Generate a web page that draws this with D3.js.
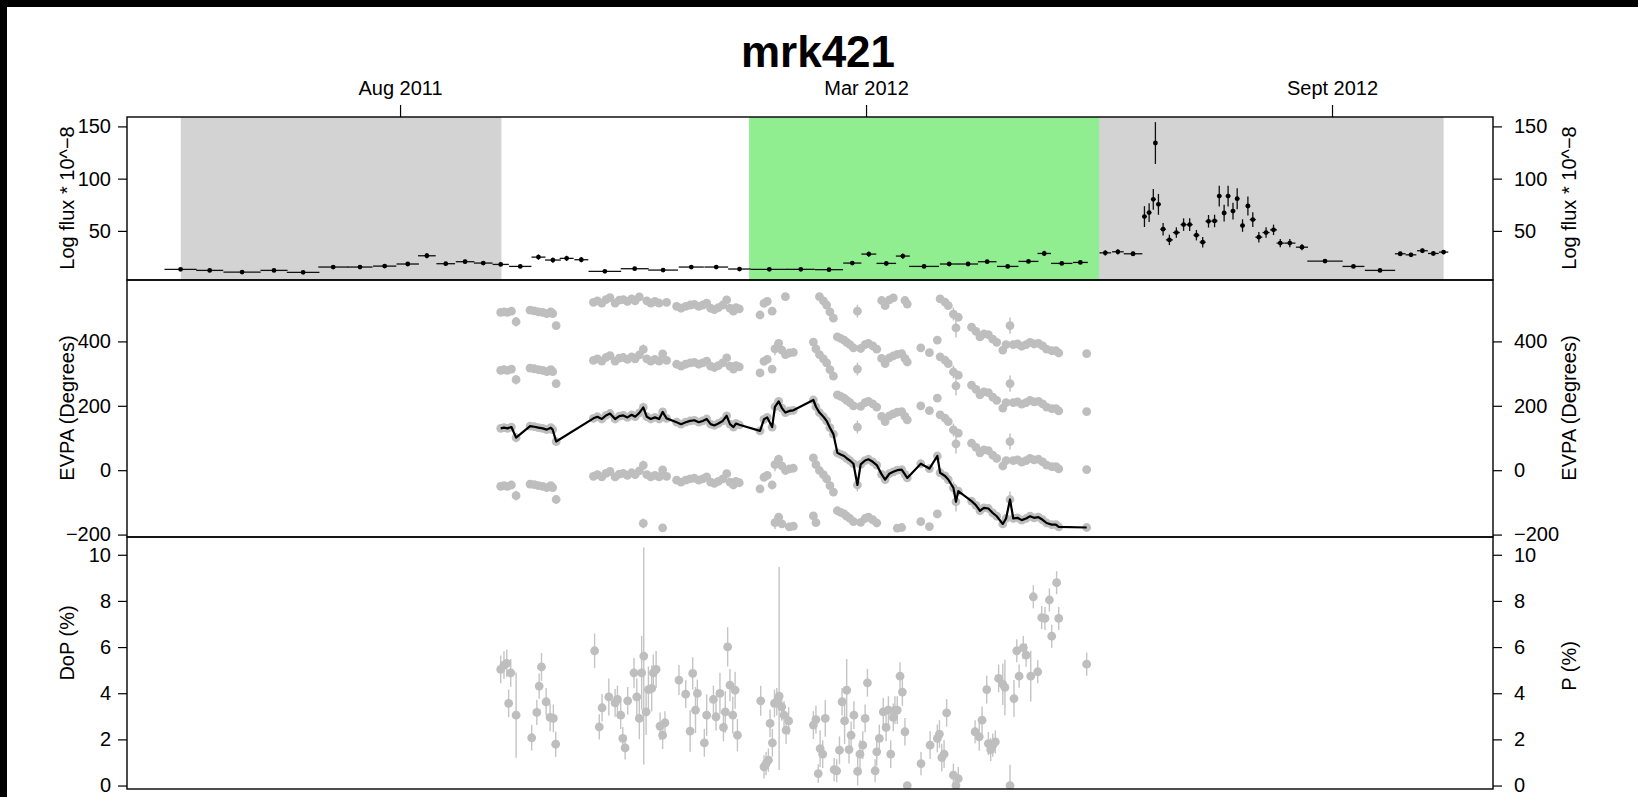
<!DOCTYPE html>
<html>
<head>
<meta charset="utf-8">
<script src="https://cdn.jsdelivr.net/npm/d3@7"></script>
<style>
  body { margin: 0; background: #fff; }
  svg { display: block; font-family: "Liberation Sans", Arial, Helvetica, sans-serif; }
</style>
</head>
<body>
<div id="chart"></div>
<script>
const sourceName = "mrk421";

// top axis (MJD) and its labels
const dateTicks = [55775, 55975, 56175];
const dateTickLabels = ["Aug 2011", "Mar 2012", "Sept 2012"];
const fluxTicks = [50, 100, 150];
const evpaTicks = [-200, 0, 200, 400];
const dopTicks = [0, 2, 4, 6, 8, 10];

// shaded observing periods [start, end] in MJD
const grayPeriods = [[55680.9, 55818.5], [56075, 56222.9]];
const greenPeriods = [[55924.8, 56075]];

// [mjd, half bin width (days), flux, error]
const fluxData = [
  [55680.8, 6.9, 13.2, 0.8], [55693.3, 5.8, 12.2, 0.8], [55707.2, 8.0, 10.6, 0.8],
  [55720.9, 5.8, 12.2, 0.8], [55733.4, 7.0, 10.3, 0.8], [55746.3, 6.4, 15.4, 1.0],
  [55757.8, 5.4, 15.4, 1.0], [55768.4, 5.0, 16.3, 1.0], [55778.3, 4.8, 18.3, 1.2],
  [55786.5, 3.8, 26.2, 2.5], [55794.6, 4.0, 18.6, 1.5], [55802.9, 4.0, 20.5, 1.8],
  [55810.7, 4.0, 19.2, 1.5], [55818.2, 3.5, 17.9, 1.2], [55826.6, 4.8, 16.0, 1.0],
  [55834.4, 3.0, 24.9, 2.5], [55840.6, 3.4, 22.1, 2.5], [55846.5, 3.0, 23.7, 2.5],
  [55852.8, 3.0, 22.4, 2.5], [55862.9, 7.0, 11.3, 0.8], [55875.7, 6.0, 13.8, 0.8],
  [55887.9, 6.4, 12.5, 0.8], [55900.0, 5.4, 15.4, 0.8], [55910.7, 5.1, 15.4, 0.8],
  [55920.7, 4.9, 13.5, 0.8], [55933.5, 7.9, 13.2, 0.8], [55947.0, 6.0, 13.2, 0.8],
  [55959.1, 6.0, 12.9, 0.8], [55969.1, 3.9, 19.2, 1.5], [55976.2, 3.2, 27.8, 2.5],
  [55983.7, 4.2, 18.9, 2.0], [55990.8, 3.0, 25.9, 2.5], [55999.9, 6.4, 16.0, 1.0],
  [56010.7, 4.0, 18.3, 1.3], [56018.8, 4.3, 18.3, 1.3], [56027.0, 4.0, 20.5, 1.5],
  [56035.8, 4.6, 16.0, 1.0], [56044.7, 4.3, 20.8, 1.5], [56051.5, 2.9, 28.4, 2.5],
  [56059.0, 4.6, 18.9, 1.5], [56067.0, 3.2, 19.8, 1.5], [56077.7, 2.5, 29.0, 2.5],
  [56083.1, 2.5, 30.0, 2.5], [56089.6, 4.0, 28.1, 2.0], [56094.5, 1.0, 63.7, 10],
  [56096.5, 1.0, 67.5, 9], [56098.3, 1.0, 80.2, 10], [56099.2, 0.5, 134.1, 20],
  [56100.5, 1.0, 75.4, 10], [56102.5, 1.2, 51.6, 6], [56105.2, 1.5, 41.4, 5],
  [56108.2, 1.5, 48.4, 5], [56111.3, 1.3, 56.0, 6], [56113.9, 1.3, 56.0, 6],
  [56116.8, 1.3, 45.9, 5], [56119.5, 1.3, 39.2, 5], [56122.0, 1.3, 59.2, 6],
  [56124.6, 1.3, 59.5, 6], [56126.6, 1.0, 83.3, 10], [56128.7, 1.0, 67.1, 8],
  [56130.4, 1.0, 83.3, 10], [56132.5, 1.0, 69.0, 8], [56134.3, 1.0, 80.8, 10],
  [56136.6, 1.0, 55.1, 6], [56138.9, 1.0, 73.8, 9], [56141.0, 1.3, 60.8, 7],
  [56143.6, 1.5, 44.0, 5], [56146.7, 1.5, 48.4, 5], [56149.9, 1.5, 51.0, 5],
  [56152.8, 1.6, 38.3, 4], [56156.9, 2.4, 38.3, 4], [56162.1, 2.6, 34.4, 3],
  [56172.0, 7.6, 21.1, 1.5], [56184.2, 4.7, 16.0, 1.0], [56195.6, 6.5, 12.2, 0.8],
  [56204.3, 2.3, 28.1, 2], [56208.9, 2.3, 27.1, 2], [56213.8, 2.3, 31.0, 2],
  [56218.5, 2.3, 28.4, 2], [56222.9, 2.0, 29.7, 2]
];

// [mjd, EVPA (deg, unwrapped), error]
const evpaData = [
  [55818.2, 130, 4], [55819.6, 132, 4], [55821.1, 130, 4], [55822.8, 134, 4],
  [55824.8, 101, 15], [55830.8, 137, 4], [55832.6, 135, 4], [55834.4, 132, 4],
  [55836.2, 130, 4], [55838.0, 126, 4], [55839.7, 132, 4], [55840.5, 126, 4],
  [55842.0, 89, 6], [55858.0, 161, 4], [55859.7, 166, 4], [55861.6, 159, 4],
  [55863.4, 170, 4], [55865.1, 176, 4], [55867.3, 159, 4], [55869.1, 168, 4],
  [55870.8, 170, 4], [55872.6, 164, 4], [55874.4, 172, 4], [55875.9, 166, 4],
  [55877.7, 178, 4], [55879.4, 195, 15], [55880.9, 166, 4], [55882.6, 159, 4],
  [55884.4, 164, 4], [55886.2, 159, 4], [55887.7, 181, 4], [55889.4, 161, 4],
  [55893.7, 149, 4], [55895.6, 143, 4], [55897.6, 149, 4], [55899.5, 153, 4],
  [55901.3, 155, 4], [55903.2, 149, 4], [55904.9, 153, 4], [55906.6, 159, 4],
  [55908.3, 143, 4], [55909.9, 139, 4], [55911.6, 145, 4], [55913.5, 153, 4],
  [55915.2, 169, 6], [55916.6, 143, 4], [55918.1, 134, 4], [55919.2, 145, 4],
  [55920.6, 141, 4], [55929.5, 122, 4], [55931.2, 158, 6], [55932.6, 164, 4],
  [55934.7, 134, 4], [55935.9, 197, 20], [55937.5, 214, 4], [55938.9, 193, 4],
  [55940.4, 179, 4], [55942.1, 184, 4], [55943.8, 186, 4], [55952.4, 218, 4],
  [55953.5, 197, 4], [55955.0, 179, 4], [55956.7, 166, 4], [55958.1, 153, 4],
  [55959.5, 132, 4], [55961.0, 112, 8], [55962.7, 54, 8], [55964.1, 49, 4],
  [55965.6, 44, 4], [55966.7, 37, 4], [55968.1, 30, 4], [55969.6, 20, 4],
  [55971.3, -46, 20], [55972.7, 18, 4], [55974.6, 30, 4], [55976.0, 34, 4],
  [55977.9, 26, 4], [55979.6, 16, 4], [55981.7, -13, 4], [55983.2, -29, 4],
  [55985.0, -11, 4], [55986.7, -5, 4], [55988.4, 0, 4], [55990.3, 2, 4],
  [55991.7, -13, 4], [55992.7, -24, 4], [55998.5, 20, 4], [56002.2, 5, 4],
  [56005.6, 44, 4], [56006.8, -8, 4], [56008.9, -18, 4], [56010.3, -29, 4],
  [56012.5, -55, 20], [56013.6, -98, 30], [56014.6, -65, 8], [56020.3, -96, 4],
  [56022.2, -109, 4], [56023.9, -126, 4], [56025.6, -117, 4], [56027.5, -119, 4],
  [56029.4, -133, 4], [56031.1, -143, 4], [56033.7, -167, 4], [56035.1, -150, 4],
  [56036.8, -91, 25], [56038.2, -150, 4], [56040.0, -148, 4], [56041.8, -155, 4],
  [56043.7, -150, 4], [56045.4, -143, 4], [56047.1, -148, 4], [56049.0, -146, 4],
  [56050.8, -154, 4], [56052.5, -164, 4], [56054.7, -169, 4], [56056.5, -169, 4],
  [56057.7, -176, 4], [56069.7, -178, 4]
];
// the 180 degree ambiguity: each angle is also shown at these offsets
const evpaBranches = [-180, 0, 180, 360];

// [mjd, P (%), error] or [mjd, P (%), error down, error up]
const dopData = [
  [55818.2, 5.03, 0.6], [55819.6, 5.22, 0.6], [55820.8, 5.29, 0.6], [55822.5, 4.88, 0.6],
  [55821.6, 3.56, 0.6], [55824.8, 3.05, 1.85], [55831.5, 2.07, 0.55], [55833.7, 3.17, 0.55],
  [55834.7, 4.31, 0.55], [55835.7, 5.14, 0.6], [55837.7, 3.63, 0.6], [55839.4, 2.95, 0.6],
  [55840.8, 2.91, 0.6], [55841.8, 1.79, 0.55], [55858.5, 5.84, 0.75], [55860.5, 2.54, 0.55],
  [55861.7, 3.37, 0.6], [55864.6, 3.84, 0.8], [55867.3, 3.58, 0.6], [55868.3, 3.73, 0.6],
  [55869.7, 3.05, 0.6], [55870.6, 2.04, 0.5], [55871.6, 1.63, 0.5], [55872.7, 3.67, 0.6],
  [55875.4, 4.88, 0.65], [55876.6, 3.84, 0.8], [55877.7, 2.91, 0.9], [55878.7, 4.88, 1.6],
  [55879.6, 5.61, 4.7], [55880.6, 3.19, 1.0], [55881.6, 4.16, 1.0], [55883.0, 4.21, 1.0],
  [55883.7, 4.88, 0.8], [55884.9, 5.03, 0.8], [55886.6, 2.57, 0.6], [55887.7, 2.18, 0.6],
  [55888.7, 2.72, 0.5], [55894.7, 4.57, 0.65], [55897.6, 3.96, 0.6], [55899.5, 2.36, 0.9],
  [55900.6, 4.86, 0.7], [55901.8, 3.27, 1.0], [55902.6, 3.99, 0.6], [55905.6, 1.85, 0.6],
  [55906.6, 3.05, 0.9], [55909.5, 3.73, 0.6], [55910.6, 2.98, 0.6], [55912.3, 3.99, 0.9],
  [55913.8, 2.52, 0.6], [55914.6, 3.19, 0.9], [55915.6, 6.01, 0.85], [55916.6, 4.35, 0.7],
  [55917.8, 3.05, 0.8], [55918.8, 4.13, 0.8], [55919.8, 2.18, 0.7], [55929.8, 3.67, 0.65],
  [55931.2, 0.81, 0.5], [55932.1, 0.95, 0.5], [55933.1, 1.10, 0.5], [55933.8, 2.69, 0.6],
  [55934.8, 1.85, 0.6], [55935.7, 3.56, 0.6], [55936.7, 3.63, 0.6], [55937.7, 3.87, 3.2, 5.6],
  [55938.8, 3.41, 0.6], [55939.8, 3.05, 0.6], [55940.7, 2.40, 0.6], [55941.8, 2.80, 0.6],
  [55952.4, 2.62, 0.6], [55953.5, 2.86, 0.6], [55954.5, 0.52, 0.4], [55955.3, 1.60, 0.8],
  [55956.4, 1.36, 0.6], [55957.5, 2.91, 0.8], [55961.3, 0.69, 0.5], [55962.4, 0.64, 0.5],
  [55963.6, 1.53, 0.6], [55964.7, 3.63, 0.6], [55965.8, 2.80, 1.0], [55966.7, 4.13, 1.35],
  [55967.7, 1.56, 0.6], [55968.6, 2.18, 0.6], [55969.8, 3.05, 0.6], [55971.4, 0.61, 0.6],
  [55972.4, 1.36, 0.6], [55973.6, 1.75, 0.6], [55974.6, 2.91, 0.6], [55975.6, 4.45, 0.6],
  [55978.9, 0.64, 0.5], [55979.6, 1.46, 0.6], [55980.7, 2.04, 0.6], [55982.4, 3.19, 0.6],
  [55983.6, 2.52, 0.6], [55984.6, 3.27, 0.6], [55985.6, 1.36, 0.6], [55986.7, 2.95, 0.6],
  [55987.4, 3.27, 0.6], [55988.4, 3.27, 0.6], [55989.6, 4.74, 0.6], [55990.6, 4.05, 0.6],
  [55991.7, 2.33, 0.6], [55992.7, 0.00, 0], [55998.6, 0.95, 0.5], [56002.5, 1.75, 0.6],
  [56005.6, 2.04, 0.6], [56006.5, 2.23, 0.6], [56007.5, 1.21, 0.6], [56008.5, 1.36, 0.6],
  [56009.6, 3.15, 0.6], [56012.5, 0.45, 0.5], [56013.6, 0.00, 0], [56014.6, 0.30, 0.5],
  [56021.8, 2.33, 0.5], [56023.6, 2.11, 0.6], [56024.8, 2.83, 0.6], [56026.8, 4.16, 0.6],
  [56027.5, 1.82, 0.5], [56028.5, 1.56, 0.5], [56029.4, 1.75, 0.5], [56030.5, 1.89, 0.5],
  [56031.9, 4.64, 0.6], [56033.7, 4.39, 0.9], [56034.6, 4.25, 1.2], [56036.8, 0.00, 0, 0.9],
  [56038.5, 3.77, 0.8], [56039.7, 5.84, 0.5], [56040.7, 4.74, 0.5], [56042.5, 5.98, 0.5],
  [56043.7, 5.65, 0.5], [56045.7, 4.74, 1.1], [56046.8, 8.18, 0.5], [56048.7, 4.93, 0.5],
  [56050.4, 7.28, 0.5], [56051.8, 7.24, 0.5], [56053.7, 8.04, 0.5], [56054.7, 6.47, 0.5],
  [56056.8, 8.79, 0.5], [56057.7, 7.24, 0.5], [56069.7, 5.26, 0.5]
];

class PolarimetryChart {
  constructor(el) {
    this.width = 1638;
    this.height = 797;
    this.left = 127;
    this.right = 1493;
    this.panels = { flux: [117, 280], evpa: [280, 537], dop: [537, 789] };
    this.svg = d3
      .select(el)
      .append("svg")
      .attr("width", this.width)
      .attr("height", this.height);

    this.x = d3.scaleLinear().domain([55657.8, 56244.1]).range([this.left, this.right]);
    this.yFlux = d3.scaleLinear().domain([3.0, 159]).range([280, 117]);
    this.yEvpa = d3.scaleLinear().domain([-207.5, 590.7]).range([537, 280]);
    this.yDop = d3.scaleLinear().domain([-0.15, 10.77]).range([789, 537]);

    this.createChart();
  }

  createChart() {
    this.svg.append("rect").attr("width", this.width).attr("height", this.height).attr("fill", "#fff");
    // black strip along the top and left edge of the original picture
    this.svg.append("rect").attr("width", this.width).attr("height", 7).attr("fill", "#000");
    this.svg.append("rect").attr("width", 7).attr("height", this.height).attr("fill", "#000");

    const defs = this.svg.append("defs");
    Object.entries(this.panels).forEach(([name, [top, bottom]]) => {
      defs
        .append("clipPath")
        .attr("id", `clip-${name}`)
        .append("rect")
        .attr("x", this.left)
        .attr("y", top)
        .attr("width", this.right - this.left)
        .attr("height", bottom - top);
    });

    this.drawFlux();
    this.drawEvpa();
    this.drawDop();
    this.drawFrames();
    this.drawAxes();

    this.svg
      .append("text")
      .attr("x", 818)
      .attr("y", 67)
      .attr("text-anchor", "middle")
      .attr("font-size", 44)
      .attr("font-weight", "bold")
      .text(sourceName);
  }

  drawFlux() {
    const x = this.x;
    const y = this.yFlux;
    const [top, bottom] = this.panels.flux;
    const g = this.svg.append("g").attr("clip-path", "url(#clip-flux)");

    const bands = grayPeriods.map((p) => ({ p, c: "#d3d3d3" }))
      .concat(greenPeriods.map((p) => ({ p, c: "#90ee90" })));
    g.selectAll(".band")
      .data(bands)
      .join("rect")
      .attr("x", (d) => x(d.p[0]))
      .attr("y", top)
      .attr("width", (d) => x(d.p[1]) - x(d.p[0]))
      .attr("height", bottom - top)
      .attr("fill", (d) => d.c);

    // bin widths
    g.selectAll(".xbar")
      .data(fluxData)
      .join("line")
      .attr("x1", (d) => x(d[0] - d[1]))
      .attr("x2", (d) => x(d[0] + d[1]))
      .attr("y1", (d) => y(d[2]))
      .attr("y2", (d) => y(d[2]))
      .attr("stroke", "#111")
      .attr("stroke-width", 1.3);

    // flux errors
    g.selectAll(".ybar")
      .data(fluxData)
      .join("line")
      .attr("x1", (d) => x(d[0]))
      .attr("x2", (d) => x(d[0]))
      .attr("y1", (d) => y(d[2] - d[3]))
      .attr("y2", (d) => y(d[2] + d[3]))
      .attr("stroke", "#111")
      .attr("stroke-width", 1.3);

    g.selectAll(".pt")
      .data(fluxData)
      .join("circle")
      .attr("cx", (d) => x(d[0]))
      .attr("cy", (d) => y(d[2]))
      .attr("r", 2.4)
      .attr("fill", "#000");
  }

  drawEvpa() {
    const x = this.x;
    const y = this.yEvpa;
    const g = this.svg.append("g").attr("clip-path", "url(#clip-evpa)");

    const copies = evpaData.flatMap(([t, a, e]) => {
      const raw = ((a % 180) + 180) % 180;
      return evpaBranches.map((k) => ({ t, a: raw + k, e }));
    });

    g.selectAll(".err")
      .data(copies.filter((d) => d.e > 5))
      .join("line")
      .attr("x1", (d) => x(d.t))
      .attr("x2", (d) => x(d.t))
      .attr("y1", (d) => y(d.a - d.e))
      .attr("y2", (d) => y(d.a + d.e))
      .attr("stroke", "#bebebe")
      .attr("stroke-width", 1.4);

    g.selectAll(".dot")
      .data(copies)
      .join("circle")
      .attr("cx", (d) => x(d.t))
      .attr("cy", (d) => y(d.a))
      .attr("r", 4.4)
      .attr("fill", "#bebebe");

    const line = d3
      .line()
      .x((d) => x(d[0]))
      .y((d) => y(d[1]));

    g.append("path")
      .datum(evpaData)
      .attr("d", line)
      .attr("fill", "none")
      .attr("stroke", "#000")
      .attr("stroke-width", 2.2)
      .attr("stroke-linejoin", "round");
  }

  drawDop() {
    const x = this.x;
    const y = this.yDop;
    const g = this.svg.append("g").attr("clip-path", "url(#clip-dop)");

    g.selectAll(".err")
      .data(dopData.filter((d) => d[2] > 0 || d[3] > 0))
      .join("line")
      .attr("x1", (d) => x(d[0]))
      .attr("x2", (d) => x(d[0]))
      .attr("y1", (d) => y(d[1] - d[2]))
      .attr("y2", (d) => y(d[1] + (d[3] !== undefined ? d[3] : d[2])))
      .attr("stroke", "#c4c4c4")
      .attr("stroke-width", 1.4);

    g.selectAll(".dot")
      .data(dopData)
      .join("circle")
      .attr("cx", (d) => x(d[0]))
      .attr("cy", (d) => y(d[1]))
      .attr("r", 4.4)
      .attr("fill", "#bebebe");
  }

  drawFrames() {
    Object.values(this.panels).forEach(([top, bottom]) => {
      this.svg
        .append("rect")
        .attr("x", this.left)
        .attr("y", top)
        .attr("width", this.right - this.left)
        .attr("height", bottom - top)
        .attr("fill", "none")
        .attr("stroke", "#000")
        .attr("stroke-width", 1.4);
    });
  }

  styleAxis(g) {
    g.attr("font-family", null).attr("font-size", 20);
    g.select(".domain").remove();
    g.selectAll("line").attr("stroke", "#000").attr("stroke-width", 1.2);
    g.selectAll("text").attr("fill", "#000");
  }

  drawAxes() {
    // top date axis
    this.svg
      .append("g")
      .attr("transform", `translate(0, ${this.panels.flux[0]})`)
      .call(
        d3.axisTop(this.x)
          .tickValues(dateTicks)
          .tickFormat((d, i) => dateTickLabels[i])
          .tickSize(12)
          .tickPadding(10)
      )
      .call((g) => this.styleAxis(g));

    const sides = [
      { y: this.yFlux, ticks: fluxTicks, left: "Log flux * 10^\u22128", right: "Log flux * 10^\u22128", my: [198, 198] },
      { y: this.yEvpa, ticks: evpaTicks, left: "EVPA (Degrees)", right: "EVPA (Degrees)", my: [408, 408] },
      { y: this.yDop, ticks: dopTicks, left: "DoP (%)", right: "P (%)", my: [643, 666] },
    ];

    sides.forEach((s) => {
      const fmt = (d) => (d < 0 ? "\u2212" + Math.abs(d) : d);
      this.svg
        .append("g")
        .attr("transform", `translate(${this.left}, 0)`)
        .call(d3.axisLeft(s.y).tickValues(s.ticks).tickFormat(fmt).tickSize(9).tickPadding(7))
        .call((g) => this.styleAxis(g));

      this.svg
        .append("g")
        .attr("transform", `translate(${this.right}, 0)`)
        .call(d3.axisRight(s.y).tickValues(s.ticks).tickFormat(fmt).tickSize(9).tickPadding(12))
        .call((g) => this.styleAxis(g));

      this.svg
        .append("text")
        .attr("transform", `translate(74, ${s.my[0]}) rotate(-90)`)
        .attr("text-anchor", "middle")
        .attr("font-size", 20)
        .text(s.left);

      this.svg
        .append("text")
        .attr("transform", `translate(1576, ${s.my[1]}) rotate(-90)`)
        .attr("text-anchor", "middle")
        .attr("font-size", 20)
        .text(s.right);
    });
  }
}

new PolarimetryChart("#chart");
</script>
</body>
</html>
